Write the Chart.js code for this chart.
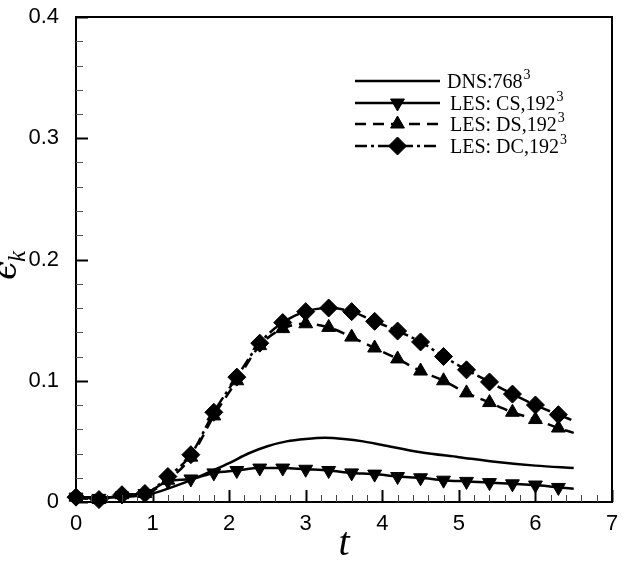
<!DOCTYPE html>
<html lang="en">
<head>
    <meta charset="UTF-8">
    <title>epsilon_k vs t</title>
    <script src="https://cdn.jsdelivr.net/npm/chart.js"></script>
    <style>
        body { margin:0; background:#fff; }
        #wrap { width:627px; height:569px; }
    </style>
</head>
<body>
    <div id="wrap"><canvas id="chart" width="627" height="569"></canvas></div>
    <script>
    // DNS curve (no markers)
    const tDns = [0, 0.5, 1.0, 1.2, 1.5, 1.75, 2.0, 2.25, 2.5, 2.75, 3.0, 3.25, 3.5, 3.75, 4.0, 4.5, 5.0, 5.5, 6.0, 6.5];
    const dns  = [0.004, 0.004, 0.007, 0.011, 0.018, 0.025, 0.032, 0.040, 0.046, 0.050, 0.052, 0.053, 0.052, 0.050, 0.047, 0.041, 0.037, 0.033, 0.030, 0.028];

    // LES runs, markers every 0.3, line ends at 6.5
    const tLes = [0, 0.3, 0.6, 0.9, 1.2, 1.5, 1.8, 2.1, 2.4, 2.7, 3.0, 3.3, 3.6, 3.9, 4.2, 4.5, 4.8, 5.1, 5.4, 5.7, 6.0, 6.3, 6.5];
    const lesCS = [0.004, 0.003, 0.005, 0.007, 0.017, 0.019, 0.024, 0.026, 0.028, 0.028, 0.027, 0.026, 0.024, 0.023, 0.021, 0.020, 0.018, 0.017, 0.016, 0.015, 0.014, 0.012, 0.011];
    const lesDS = [0.004, 0.002, 0.006, 0.007, 0.018, 0.037, 0.071, 0.100, 0.129, 0.143, 0.147, 0.144, 0.136, 0.127, 0.118, 0.108, 0.100, 0.090, 0.082, 0.074, 0.068, 0.061, 0.057];
    const lesDC = [0.004, 0.002, 0.006, 0.007, 0.021, 0.039, 0.074, 0.103, 0.131, 0.148, 0.157, 0.160, 0.157, 0.149, 0.141, 0.132, 0.120, 0.109, 0.099, 0.089, 0.080, 0.072, 0.067];

    const xTicks = [0, 1, 2, 3, 4, 5, 6, 7];
    const yTicks = [0, 0.1, 0.2, 0.3, 0.4];

    const legendItems = [
        { base: 'DNS:768', sup: '3' },
        { base: 'LES: CS,192', sup: '3' },
        { base: 'LES: DS,192', sup: '3' },
        { base: 'LES: DC,192', sup: '3' }
    ];

    function pts(ts, vs) { return ts.map((t, i) => ({ x: t, y: vs[i] })); }
    // no marker on the last point (t = 6.5)
    function markerRadius(r) { return ctx => ctx.dataIndex === tLes.length - 1 ? 0 : r; }

    const datasets = [
        { label: 'DNS', data: pts(tDns, dns), borderColor: '#000', borderWidth: 2.5, pointRadius: 0, order: 4 },
        { label: 'CS', data: pts(tLes, lesCS), borderColor: '#000', borderWidth: 2.5,
          pointStyle: 'triangle', rotation: 180, pointRadius: markerRadius(8), order: 3 },
        { label: 'DS', data: pts(tLes, lesDS), borderColor: '#000', borderWidth: 2.5, borderDash: [11, 7],
          pointStyle: 'triangle', pointRadius: markerRadius(8), order: 2 },
        { label: 'DC', data: pts(tLes, lesDC), borderColor: '#000', borderWidth: 2.5, borderDash: [12, 4, 3, 4],
          pointStyle: 'rectRot', pointRadius: markerRadius(9), order: 1 }
    ];
    datasets.forEach(d => {
        d.backgroundColor = '#000';
        d.pointBackgroundColor = '#000';
        d.pointBorderColor = '#000';
        d.pointBorderWidth = 1;
        d.fill = false;
        d.cubicInterpolationMode = 'monotone';
        d.clip = false;
    });

    const tickFont = { family: "'Liberation Sans', Arial, sans-serif", size: 22 };

    // frame, inward ticks, legend and axis titles
    const decor = {
        id: 'decor',
        afterDraw(chart) {
            const c = chart.ctx, a = chart.chartArea;
            const xs = chart.scales.x, ys = chart.scales.y;
            c.save();
            c.strokeStyle = '#000';
            c.lineWidth = 2;
            c.strokeRect(a.left, a.top, a.right - a.left, a.bottom - a.top);

            // x ticks
            for (let i = 0; i <= 35; i++) {
                const major = i % 5 === 0;
                const px = Math.round(xs.getPixelForValue(i * 0.2)) + 0.5;
                c.lineWidth = major ? 2 : 1;
                c.strokeStyle = major ? '#000' : '#444';
                c.beginPath();
                c.moveTo(px, a.bottom);
                c.lineTo(px, a.bottom - (major ? 12 : 7));
                c.stroke();
            }
            // y ticks
            for (let i = 0; i <= 20; i++) {
                const major = i % 5 === 0;
                const py = Math.round(ys.getPixelForValue(i * 0.02)) + 0.5;
                c.lineWidth = major ? 2 : 1;
                c.strokeStyle = major ? '#000' : '#555';
                c.beginPath();
                c.moveTo(a.left, py);
                c.lineTo(a.left + (major ? 12 : 7), py);
                c.stroke();
            }

            // legend
            const lx0 = 355, lx1 = 440, rows = [81, 103, 124, 146];
            chart.data.datasets.forEach((ds, i) => {
                const y = rows[i];
                c.save();
                c.strokeStyle = '#000';
                c.lineWidth = 2.5;
                c.setLineDash(ds.borderDash || []);
                c.beginPath();
                c.moveTo(lx0, y);
                c.lineTo(lx1, y);
                c.stroke();
                c.restore();
                if (ds.pointStyle) {
                    c.fillStyle = '#000';
                    c.strokeStyle = '#000';
                    c.lineWidth = 1;
                    Chart.helpers.drawPoint(c, {
                        pointStyle: ds.pointStyle,
                        rotation: ds.rotation || 0,
                        radius: ds.pointStyle === 'rectRot' ? 9 : 8,
                        borderWidth: 1
                    }, (lx0 + lx1) / 2, y);
                }
                const it = legendItems[i];
                c.fillStyle = '#000';
                c.textBaseline = 'alphabetic';
                c.textAlign = 'left';
                c.font = "20px 'Liberation Serif', serif";
                const tx = i === 0 ? 447 : 450;
                c.fillText(it.base, tx, y + 7);
                const w = c.measureText(it.base).width;
                c.font = "14px 'Liberation Serif', serif";
                c.fillText(it.sup, tx + w + 1, y - 2);
            });

            // x title
            c.fillStyle = '#000';
            c.textAlign = 'center';
            c.textBaseline = 'alphabetic';
            c.font = "italic 40px 'Liberation Serif', serif";
            c.fillText('t', 344, 555);

            // y title, rotated
            c.save();
            c.translate(16, 280);
            c.rotate(-Math.PI / 2);
            c.textAlign = 'left';
            c.font = "italic 34px 'DejaVu Serif', serif";
            c.fillText('\u03f5', 0, 0);
            const ew = c.measureText('\u03f5').width;
            c.font = "italic 25px 'Liberation Serif', serif";
            c.fillText('k', ew - 1, 9);
            c.restore();

            c.restore();
        }
    };

    new Chart(document.getElementById('chart'), {
        type: 'line',
        data: { datasets },
        plugins: [decor],
        options: {
            responsive: false,
            animation: false,
            devicePixelRatio: 1,
            layout: { padding: { top: 17, right: 15, left: 0, bottom: 0 } },
            plugins: { legend: { display: false }, tooltip: { enabled: false } },
            scales: {
                x: {
                    type: 'linear', min: 0, max: 7,
                    afterBuildTicks: s => { s.ticks = xTicks.map(v => ({ value: v })); },
                    afterFit: s => { s.height = 67; s.paddingLeft = 0; s.paddingRight = 0; },
                    grid: { display: false },
                    border: { display: false },
                    ticks: { font: tickFont, color: '#000', padding: 1, maxRotation: 0 }
                },
                y: {
                    type: 'linear', min: 0, max: 0.4,
                    afterBuildTicks: s => { s.ticks = yTicks.map(v => ({ value: v })); },
                    afterFit: s => { s.width = 76; s.paddingTop = 0; s.paddingBottom = 0; },
                    grid: { display: false },
                    border: { display: false },
                    ticks: { font: tickFont, color: '#000', padding: 9,
                             callback: v => v === 0 ? '0' : v.toFixed(1) }
                }
            }
        }
    });
    </script>
</body>
</html>
